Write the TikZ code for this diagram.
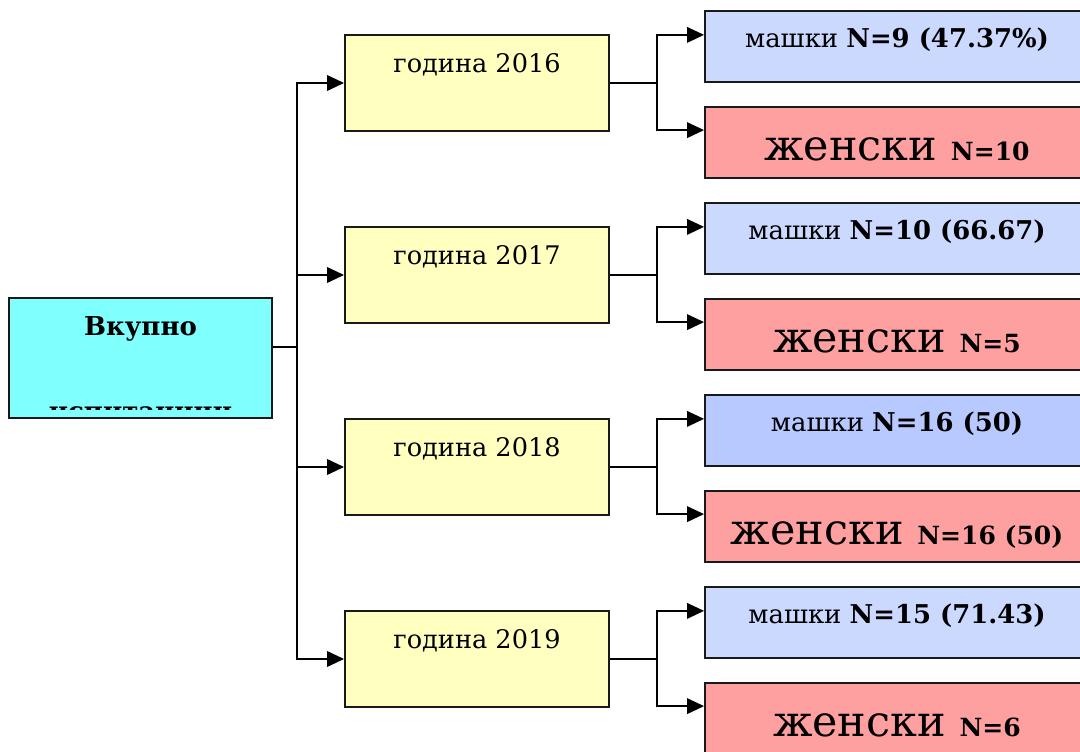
\documentclass[tikz,border=0pt]{standalone}
\usepackage{fontspec}
\setmainfont{DejaVu Serif}
\usetikzlibrary{arrows.meta}

\definecolor{rootcol}{HTML}{80FFFF}
\definecolor{yearcol}{HTML}{FFFFC0}
\definecolor{malecol}{HTML}{CCD9FF}
\definecolor{malecolb}{HTML}{B8C9FF}
\definecolor{femcol}{HTML}{FFA0A0}

\newcommand\rootfont{\fontsize{18.5}{22}\selectfont\bfseries}
\newcommand\yearfont{\fontsize{18.2}{21}\selectfont}
\newcommand\malefont{\fontsize{18.4}{21}\selectfont}
\newcommand\femfont{\fontsize{30.5}{34}\selectfont}
\newcommand\femnfont{\fontsize{17.8}{20}\selectfont\bfseries}

\tikzset{
  box/.style={draw=black!90, line width=1.3pt, inner sep=0pt},
  rootbox/.style={box, fill=rootcol, minimum width=6.575cm, minimum height=3cm},
  yearbox/.style={box, fill=yearcol, minimum width=6.6cm, minimum height=2.4cm},
  leafbox/.style={box, minimum width=9.625cm, minimum height=1.775cm},
  conn/.style={line width=1.3pt},
  arr/.style={conn, -{Triangle[length=12pt,width=11pt]}},
  txt/.style={anchor=base, inner sep=0pt}
}

\begin{document}
\begin{tikzpicture}[x=0.025cm, y=-0.025cm]
    \useasboundingbox (0,0) rectangle (1080,751);

    % root
    \node[rootbox] (root) at (140.5,358) {};
    \node[txt, font=\rootfont] (roottxt) at (140.5,335) {Вкупно};
    \begin{scope}
        \clip (10,299) rectangle (271,409);
        \node[txt, font=\rootfont] (roottxtb) at (140.5,420) {испитаници};
    \end{scope}

    \coordinate (trunk) at (297,347);
    \draw[conn] (root.east |- trunk) -- (trunk);

    \foreach \yr/\mtext/\ftext/\mcol [count=\i from 0] in {%
        2016/{N=9 (47.37\%)}/{N=10}/malecol,
        2017/{N=10 (66.67)}/{N=5}/malecol,
        2018/{N=16 (50)}/{N=16 (50)}/malecolb,
        2019/{N=15 (71.43)}/{N=6}/malecol}{%
        \pgfmathsetmacro\yy{83+192*\i}
        \node[yearbox] (y\yr) at (477,\yy) {};
        \node[txt, font=\yearfont] (y\yr t) at (477,\yy-11) {година \yr};
        \node[leafbox, fill=\mcol] (m\yr) at (897.5,\yy-36.5) {};
        \node[txt] (m\yr t) at (897,\yy-36) {\malefont машки \textbf{\mtext}};
        \node[leafbox, fill=femcol] (f\yr) at (897.5,\yy+59.5) {};
        \node[txt] (f\yr t) at (897,\yy+77) {\femfont женски {\femnfont\ftext}};
        \coordinate (k\yr) at (657,\yy);
        \draw[arr] (trunk) |- (y\yr.west);
        \draw[conn] (y\yr.east) -- (k\yr);
        \draw[arr] (k\yr) |- ([yshift=0.29cm]m\yr.west);
        \draw[arr] (k\yr) |- ([yshift=0.31cm]f\yr.west);
    }
\end{tikzpicture}
\end{document}
